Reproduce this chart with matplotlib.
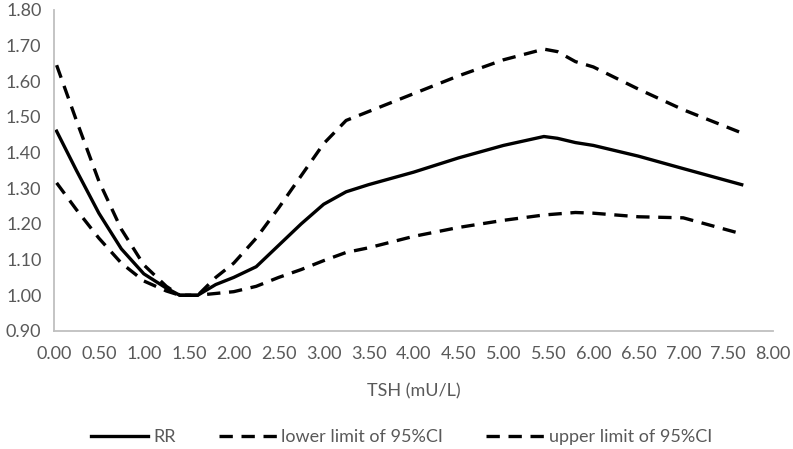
import matplotlib
matplotlib.use("Agg")
import matplotlib.pyplot as plt

# Data
tsh = [0.03, 0.25, 0.5, 0.75, 1.0, 1.25, 1.4, 1.6, 1.8, 2.0, 2.25, 2.5, 2.75,
       3.0, 3.25, 3.5, 4.0, 4.5, 5.0, 5.45, 5.6, 5.8, 6.0, 6.5, 7.0, 7.65]

rr = [1.46, 1.35, 1.23, 1.13, 1.06, 1.02, 1.00, 1.00, 1.03, 1.05, 1.08, 1.14, 1.20,
      1.255, 1.29, 1.31, 1.345, 1.385, 1.42, 1.445, 1.44, 1.428, 1.42, 1.39, 1.355, 1.31]

upper = [1.645, 1.49, 1.32, 1.185, 1.085, 1.025, 1.00, 1.00, 1.05, 1.09, 1.16, 1.245, 1.335,
         1.425, 1.49, 1.515, 1.565, 1.615, 1.66, 1.69, 1.683, 1.655, 1.64, 1.578, 1.52, 1.455]

lower = [1.315, 1.24, 1.16, 1.09, 1.04, 1.012, 1.00, 1.00, 1.005, 1.01, 1.025, 1.05, 1.072,
         1.097, 1.12, 1.133, 1.165, 1.19, 1.21, 1.225, 1.228, 1.232, 1.23, 1.22, 1.217, 1.172]

xticks = [0.0, 0.5, 1.0, 1.5, 2.0, 2.5, 3.0, 3.5, 4.0, 4.5, 5.0, 5.5, 6.0, 6.5, 7.0, 7.5, 8.0]
yticks = [0.9, 1.0, 1.1, 1.2, 1.3, 1.4, 1.5, 1.6, 1.7, 1.8]

plt.rcParams["font.family"] = ["Lato", "DejaVu Sans"]
text_color = "#595959"
axis_color = "#bfbfbf"

fig = plt.figure(figsize=(7.93, 4.49), dpi=100)
ax = fig.add_axes([0.068, 0.263, 0.907, 0.715])

ax.plot(tsh, rr, color="black", linewidth=2.4, label="RR")
ax.plot(tsh, lower, color="black", linewidth=2.4, dashes=(4, 2.6),
        label="lower limit of 95%CI")
ax.plot(tsh, upper, color="black", linewidth=2.4, dashes=(4, 2.6),
        label="upper limit of 95%CI")

ax.set_xlim(0, 8)
ax.set_ylim(0.9, 1.8)
ax.set_xticks(xticks)
ax.set_yticks(yticks)
ax.set_xticklabels([f"{v:.2f}" for v in xticks])
ax.set_yticklabels([f"{v:.2f}" for v in yticks])
ax.tick_params(length=0, labelsize=13, colors=text_color)
ax.tick_params(axis="x", pad=11)
ax.tick_params(axis="y", pad=9)

for side in ["top", "right"]:
    ax.spines[side].set_visible(False)
for side in ["left", "bottom"]:
    ax.spines[side].set_color(axis_color)
    ax.spines[side].set_linewidth(1.3)

ax.set_xlabel("TSH (mU/L)", fontsize=13, color=text_color, labelpad=15)

leg = fig.legend(loc="center", bbox_to_anchor=(0.506, 0.027), ncol=3,
                 frameon=False, fontsize=13, handlelength=3.2,
                 handletextpad=0.25, columnspacing=2.4)
for t in leg.get_texts():
    t.set_color(text_color)

fig.savefig("out.png", dpi=100)
